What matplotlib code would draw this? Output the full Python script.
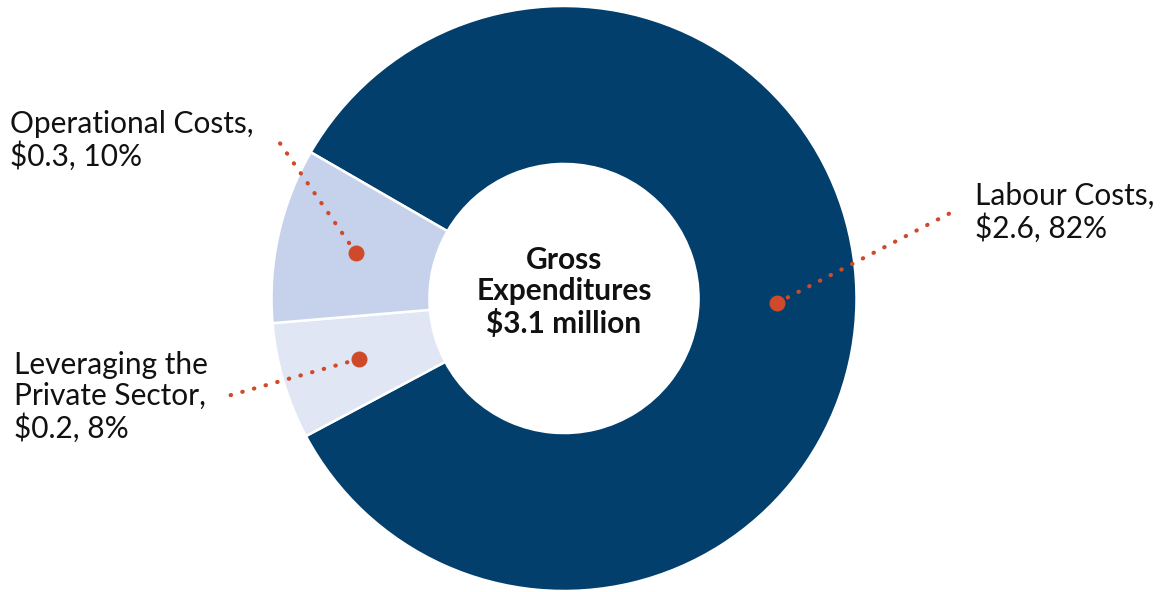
import matplotlib.pyplot as plt

# data (millions of dollars)
categories = ['Labour Costs', 'Leveraging the Private Sector', 'Operational Costs']
values = [2.6, 0.2, 0.3]
labels = ['Labour Costs,\n$2.6, 82%',
          'Leveraging the\nPrivate Sector,\n$0.2, 8%',
          'Operational Costs,\n$0.3, 10%']
colors = ['#023F6D', '#E0E6F4', '#C6D2EB']
center_text = 'Gross\nExpenditures\n$3.1 million'

W, H = 1164, 592
plt.rcParams['font.family'] = ['Lato', 'DejaVu Sans']

fig = plt.figure(figsize=(W / 100, H / 100), dpi=100)
ax = fig.add_axes([0, 0, 1, 1])

cx, cy, r = 564, H - 298.5, 292.5

ax.pie(values, colors=colors, startangle=150, counterclock=False,
       center=(cx, cy), radius=r, frame=True,
       wedgeprops=dict(width=r * 0.54, edgecolor='white', linewidth=1.8))
ax.set_xlim(0, W)
ax.set_ylim(0, H)
ax.set_aspect('equal')
ax.axis('off')

ax.text(cx, H - 292, center_text, ha='center', va='center', fontsize=21.5,
        fontweight='bold', color='#111111', linespacing=1.17)

red = '#CF4A2A'
# (dot x, dot y, line end x, line end y, text x, text y) in image pixels
callouts = [
    (777, 303, 958, 209, 975, 212),
    (359, 359, 224, 397, 14, 397),
    (356, 253, 277, 139, 10, 140),
]
for lab, (dx, dy, ex, ey, tx, ty) in zip(labels, callouts):
    ax.plot([dx, ex], [H - dy, H - ey], color=red, lw=3,
            linestyle=(0, (0.1, 2.8)), dash_capstyle='round')
    ax.plot(dx, H - dy, 'o', color=red, markersize=10.5)
    ax.text(tx, H - ty, lab, ha='left', va='center', fontsize=21.5,
            color='#111111', linespacing=1.12)

fig.savefig('out.png', dpi=100)
